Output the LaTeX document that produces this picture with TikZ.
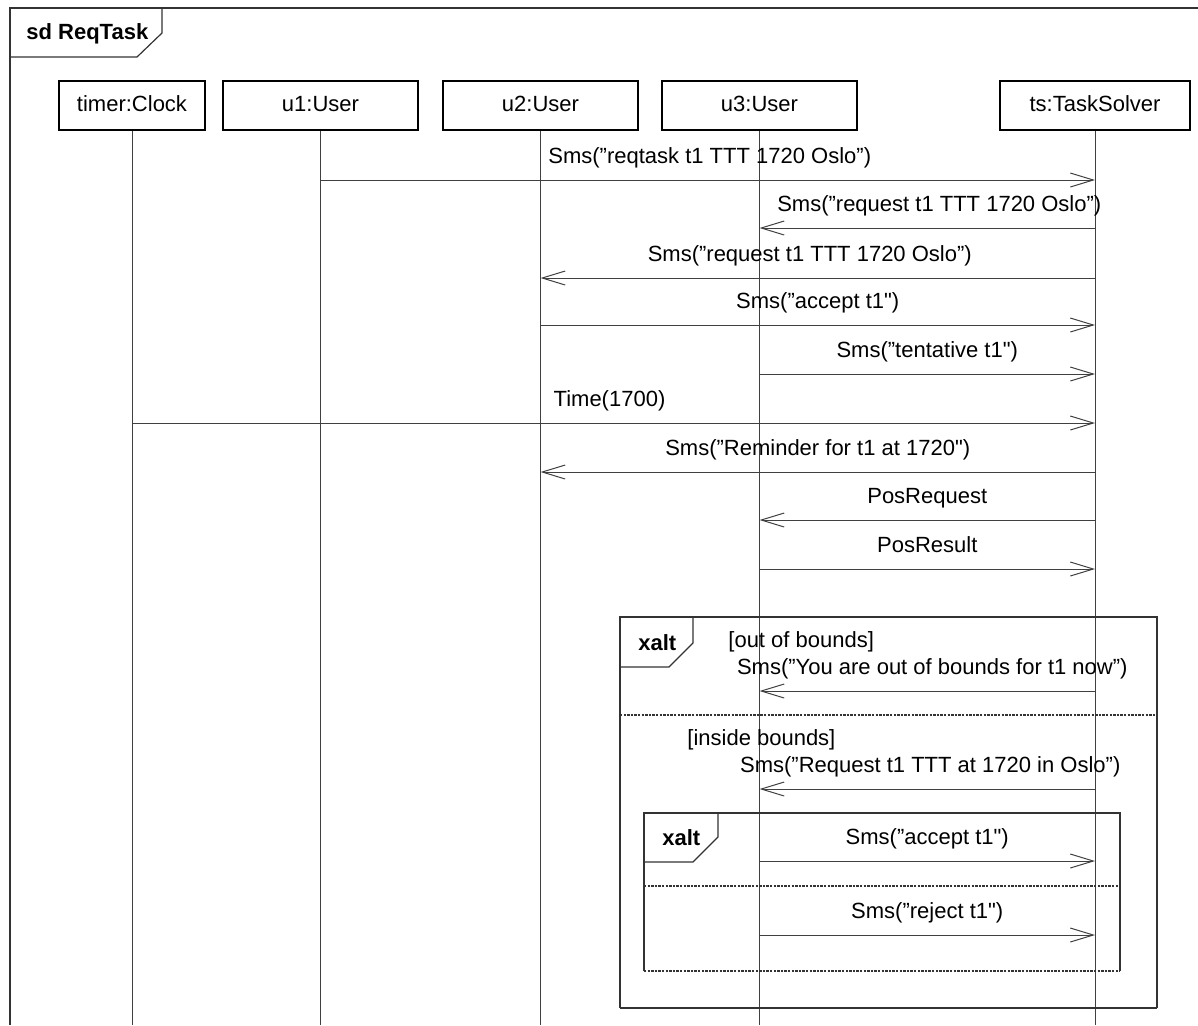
\documentclass[tikz,border=0pt]{standalone}
\usepackage{fontspec}
\setmainfont{Liberation Sans}[Ligatures=TeXOff]
\usetikzlibrary{arrows.meta, positioning}

\begin{document}
\begin{tikzpicture}[x=0.5pt, y=-0.5pt, font=\fontsize{11}{13}\selectfont,
    obj/.style={rectangle, draw, line width=0.6pt, minimum height=24.5pt, inner sep=0pt, text depth=0.2em},
    life/.style={draw=black!75, line width=0.5pt},
    msg/.style={draw=black!75, line width=0.5pt, -{Straight Barb[length=11.5pt, width=7pt, line width=0.5pt]}},
    lbl/.style={above=6pt, inner sep=0pt, text depth=0.22em, text=black},
    frm/.style={draw=black!80, line width=0.6pt},
    sep/.style={draw=black!80, line width=0.6pt, dash pattern=on 1.2pt off 0.6pt},
    ttl/.style={font=\fontsize{11}{13}\selectfont\bfseries, inner sep=0pt, anchor=west},
    guard/.style={inner sep=0pt, anchor=west},
]
    \useasboundingbox (0,0) rectangle (1198,1025);

    % diagram frame
    \draw[frm] (1198,8) -- (10,8) -- (10,1025);
    \draw[frm] (162,8) -- (162,33) -- (137,57) -- (10,57);
    \node[ttl] (sd) at (26,34) {sd ReqTask};

    % lifelines
    \node[obj, minimum width=73pt] (timer) at (132,105.5) {timer:Clock};
    \node[obj, minimum width=97.5pt] (u1) at (320.5,105.5) {u1:User};
    \node[obj, minimum width=97.5pt] (u2) at (540.5,105.5) {u2:User};
    \node[obj, minimum width=97.5pt] (u3) at (759.5,105.5) {u3:User};
    \node[obj, minimum width=95pt] (ts) at (1095,105.5) {ts:TaskSolver};
    \foreach \n in {timer,u1,u2,u3,ts} {
        \coordinate (\n-end) at (\n |- 0,1025);
        \draw[life] (\n.south) -- (\n-end);
    }

    % messages
    \draw[msg] (u1 |- 0,180) -- (ts |- 0,180) node[lbl, midway, xshift=1pt] {Sms(”reqtask t1 TTT 1720 Oslo”)};
    \draw[msg] (ts |- 0,228) -- (u3 |- 0,228) node[lbl, midway, xshift=6pt] {Sms(”request t1 TTT 1720 Oslo”)};
    \draw[msg] (ts |- 0,278) -- (u2 |- 0,278) node[lbl, midway, xshift=-4pt] {Sms(”request t1 TTT 1720 Oslo”)};
    \draw[msg] (u2 |- 0,325) -- (ts |- 0,325) node[lbl, midway] {Sms(”accept t1")};
    \draw[msg] (u3 |- 0,374) -- (ts |- 0,374) node[lbl, midway] {Sms(”tentative t1")};
    \draw[msg] (timer |- 0,423) -- (ts |- 0,423) node[lbl, midway, xshift=-2pt] {Time(1700)};
    \draw[msg] (ts |- 0,472) -- (u2 |- 0,472) node[lbl, midway] {Sms(”Reminder for t1 at 1720")};
    \draw[msg] (ts |- 0,520) -- (u3 |- 0,520) node[lbl, midway] {PosRequest};
    \draw[msg] (u3 |- 0,569) -- (ts |- 0,569) node[lbl, midway] {PosResult};

    % outer xalt
    \draw[frm] (620,1008) -- (620,617) -- (1157,617) -- (1157,1008);
    \draw[frm, line width=1.2pt] (620,1008) -- (1157,1008);
    \draw[frm] (693,617) -- (693,643) -- (669,667) -- (620,667);
    \node[ttl] (alt1) at (638,643) {xalt};
    \draw[sep] (620,715) -- (1157,715);
    \node[guard] (g1) at (728,642) {[out of bounds]};
    \draw[msg] (ts |- 0,691) -- (u3 |- 0,691) node[lbl, midway, xshift=2.5pt] {Sms(”You are out of bounds for t1 now”)};
    \node[guard] (g2) at (687,740) {[inside bounds]};
    \draw[msg] (ts |- 0,789) -- (u3 |- 0,789) node[lbl, midway, xshift=1.5pt] {Sms(”Request t1 TTT at 1720 in Oslo”)};

    % inner xalt
    \draw[frm] (644,971) -- (644,813) -- (1120,813) -- (1120,971);
    \draw[sep] (644,971) -- (1120,971);
    \draw[frm] (718,813) -- (718,837) -- (693,862) -- (644,862);
    \node[ttl] (alt2) at (662,838) {xalt};
    \draw[sep] (644,886) -- (1120,886);
    \draw[msg] (u3 |- 0,861) -- (ts |- 0,861) node[lbl, midway] {Sms(”accept t1")};
    \draw[msg] (u3 |- 0,935) -- (ts |- 0,935) node[lbl, midway] {Sms(”reject t1")};
\end{tikzpicture}
\end{document}
